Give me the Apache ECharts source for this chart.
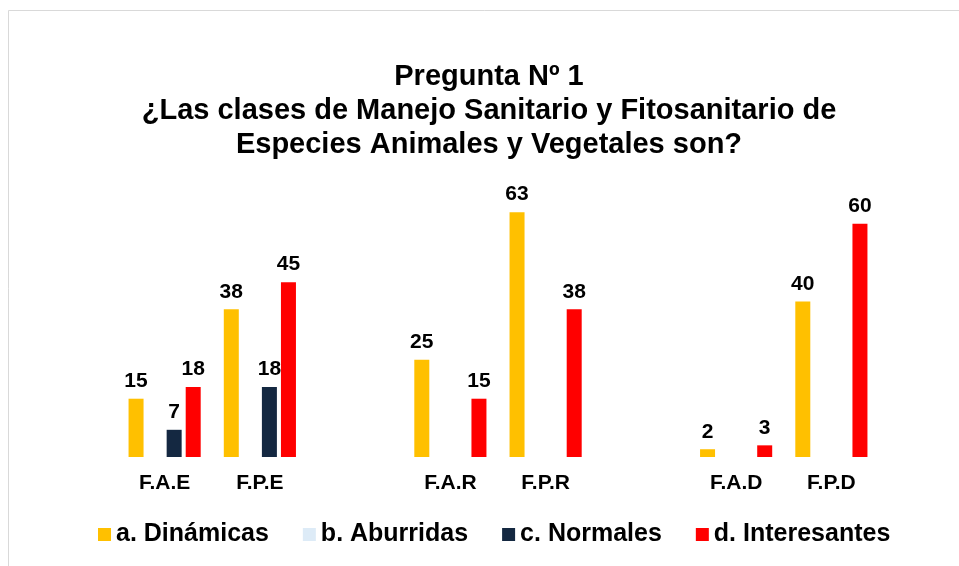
<!DOCTYPE html>
<html>
<head>
<meta charset="utf-8">
<script src="https://cdn.jsdelivr.net/npm/echarts@6/dist/echarts.min.js"></script>
<style>
html,body{margin:0;padding:0;background:#fff;}
#chart{width:959px;height:566px;}
</style>
</head>
<body>
<div id="chart"></div>
<script>
// categorias (con huecos entre grupos)
var categorias=['F.A.E','F.P.E','','F.A.R','F.P.R','','F.A.D','F.P.D'];
var dinamicas=[15,38,'-',25,63,'-',2,40];
var aburridas=['-','-','-','-','-','-','-','-'];
var normales=[7,18,'-','-','-','-','-','-'];
var interesantes=[18,45,'-',15,38,'-',3,60];

var fuente='"Liberation Sans", Arial, sans-serif';
var etiqueta={show:true,position:'top',distance:7,color:'#000',fontWeight:'bold',fontSize:21,fontFamily:fuente};

function serie(nombre,datos,color){
	return {
		name:nombre,
		type:'bar',
		data:datos,
		barWidth:15,
		barGap:'27%',
		barCategoryGap:'24%',
		itemStyle:{color:color},
		label:etiqueta
	};
}

var chart=echarts.init(document.getElementById('chart'));
chart.setOption({
	backgroundColor:'#fff',
	animation:false,
	graphic:[{
		type:'rect',
		shape:{x:8.5,y:10.5,width:1000,height:600},
		style:{fill:'none',stroke:'#d9d9d9',lineWidth:1}
	}],
	title:{
		text:'Pregunta Nº 1\n¿Las clases de Manejo Sanitario y Fitosanitario de\nEspecies Animales y Vegetales son?',
		left:484,
		textAlign:'center',
		top:55,
		textStyle:{fontFamily:fuente,fontWeight:'bold',fontSize:29,lineHeight:34,color:'#000'}
	},
	legend:{
		data:['a. Dinámicas','b. Aburridas','c. Normales','d. Interesantes'],
		left:93,
		top:517,
		icon:'rect',
		itemWidth:13,
		itemHeight:13,
		itemGap:34,
		textStyle:{fontFamily:fuente,fontWeight:'bold',fontSize:25,color:'#000'}
	},
	grid:{left:117,width:762,top:185,height:272},
	xAxis:{
		type:'category',
		data:categorias,
		axisLine:{show:false},
		axisTick:{show:false},
		axisLabel:{color:'#000',fontWeight:'bold',fontSize:21,fontFamily:fuente,margin:16}
	},
	yAxis:{
		type:'value',
		min:0,
		max:70,
		show:false,
		splitLine:{show:false}
	},
	series:[
		serie('a. Dinámicas',dinamicas,'#FFC000'),
		serie('b. Aburridas',aburridas,'#DDEBF7'),
		serie('c. Normales',normales,'#142841'),
		serie('d. Interesantes',interesantes,'#FF0000')
	]
});
</script>
</body>
</html>
